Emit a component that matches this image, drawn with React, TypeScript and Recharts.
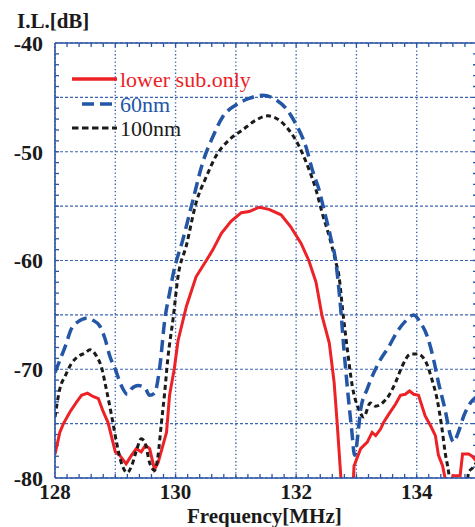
import React from 'react';
import {
    LineChart,
    Line,
    XAxis,
    YAxis,
    CartesianGrid,
    ReferenceLine,
} from 'recharts';

// frequency [MHz] / insertion loss [dB] for each sample
const lowerSubFreq = [
    128.0, 128.08, 128.14, 128.25, 128.36, 128.44, 128.54, 128.63, 128.72, 128.8,
    128.88, 129.0, 129.07, 129.18, 129.27, 129.35, 129.43, 129.5, 129.57, 129.65,
    129.71, 129.79, 129.85, 129.9, 129.98, 130.04, 130.18, 130.34, 130.51, 130.62,
    130.76, 130.92, 131.09, 131.22, 131.39, 131.55, 131.75, 131.91, 132.08, 132.21,
    132.33, 132.43, 132.55, 132.63, 132.68, 132.74, 132.82, 132.9, 132.96, 133.07,
    133.18, 133.26, 133.32, 133.4, 133.45, 133.54, 133.65, 133.73, 133.81, 133.88,
    133.95, 134.03, 134.14, 134.23, 134.31, 134.36, 134.43, 134.47, 134.53, 134.6,
    134.72, 134.76, 134.86, 134.92, 135.0,
];
const lowerSubIL = [
    -77.8, -75.8, -75.0, -73.9, -73.0, -72.4, -72.2, -72.5, -72.7, -73.9,
    -74.9, -77.6, -77.9, -78.7, -77.9, -77.3, -77.6, -77.0, -77.3, -79.2,
    -78.6, -77.0, -75.8, -72.4, -69.9, -67.4, -64.2, -61.5, -60.0, -59.0,
    -57.5, -56.4, -55.6, -55.5, -55.1, -55.3, -55.8, -56.9, -58.4, -60.0,
    -62.0, -65.1, -67.6, -71.2, -74.9, -79.8, -86.0, -86.0, -78.9, -77.3,
    -76.7, -75.8, -76.1, -75.5, -74.9, -74.1, -73.2, -72.4, -72.3, -72.0,
    -72.3, -72.4, -74.3, -75.2, -76.1, -77.9, -78.9, -80.0, -82.0, -79.8,
    -79.8, -77.8, -77.8, -78.0, -78.5,
];

const nm60Freq = [
    128.0, 128.05, 128.17, 128.27, 128.39, 128.52, 128.63, 128.74, 128.83, 128.91,
    129.0, 129.1, 129.2, 129.27, 129.38, 129.49, 129.57, 129.65, 129.74, 129.82,
    129.9, 129.97, 130.12, 130.29, 130.45, 130.62, 130.78, 131.0, 131.22, 131.44,
    131.66, 131.83, 131.99, 132.16, 132.27, 132.38, 132.46, 132.57, 132.66, 132.74,
    132.79, 132.85, 132.92, 132.97, 133.04, 133.07, 133.18, 133.29, 133.4, 133.54,
    133.67, 133.81, 133.95, 134.06, 134.17, 134.28, 134.36, 134.47, 134.56, 134.61,
    134.69, 134.78, 134.89, 135.0,
];
const nm60IL = [
    -70.3, -69.6, -67.9, -66.3, -65.6, -65.3, -65.5, -66.0, -67.2, -68.8,
    -70.0, -71.5, -72.3, -71.8, -71.5, -71.7, -72.4, -72.2, -69.7, -65.5,
    -63.0, -61.0, -58.1, -54.4, -51.0, -48.6, -46.8, -45.7, -45.1, -44.8,
    -45.2, -46.0, -47.4, -49.5, -51.7, -53.5, -55.3, -57.8, -60.2, -64.5,
    -68.0, -71.7, -75.5, -77.9, -75.2, -73.7, -71.8, -70.3, -69.1, -67.9,
    -66.6, -65.6, -65.0, -65.7, -66.9, -69.1, -71.2, -73.7, -76.1, -76.7,
    -75.8, -74.3, -73.1, -72.5,
];

const nm100Freq = [
    128.0, 128.08, 128.17, 128.27, 128.39, 128.5, 128.58, 128.69, 128.77, 128.85,
    128.94, 129.02, 129.1, 129.2, 129.27, 129.35, 129.43, 129.49, 129.57, 129.65,
    129.71, 129.76, 129.82, 129.87, 129.96, 130.04, 130.18, 130.34, 130.51, 130.67,
    130.89, 131.11, 131.33, 131.53, 131.72, 131.88, 132.05, 132.19, 132.33, 132.43,
    132.55, 132.66, 132.71, 132.77, 132.85, 132.93, 133.04, 133.12, 133.23, 133.32,
    133.43, 133.54, 133.65, 133.76, 133.9, 134.01, 134.14, 134.25, 134.34, 134.42,
    134.47, 134.53, 134.6, 134.8, 134.86, 134.94, 135.0,
];
const nm100IL = [
    -74.4, -71.8, -70.6, -69.5, -68.8, -68.5, -68.2, -68.8, -69.8, -71.8,
    -74.3, -76.7, -78.6, -79.5, -78.9, -77.5, -76.4, -76.7, -78.6, -79.3,
    -77.9, -75.2, -72.1, -69.1, -65.3, -61.5, -58.6, -54.7, -52.3, -50.4,
    -48.9, -48.0, -47.1, -46.7, -47.1, -48.0, -49.5, -51.3, -53.5, -55.6,
    -57.8, -60.2, -61.4, -64.5, -68.2, -71.5, -73.7, -74.4, -73.1, -73.4,
    -73.1, -72.4, -71.2, -69.7, -68.6, -68.6, -69.2, -70.9, -72.8, -75.5,
    -77.6, -79.5, -83.0, -83.0, -79.5, -79.0, -78.5,
];

const freqTicks = [128, 129, 130, 131, 132, 133, 134, 135];
const freqLabels = [128, 130, 132, 134];
const ilTicks = [-80, -75, -70, -65, -60, -55, -50, -45, -40];
const ilLabels = [-80, -70, -60, -50, -40];

// minor tick marks: 0.2 MHz and 1 dB
const freqMinor = Array.from({ length: 34 }, (_, i) => Math.round((128.2 + i * 0.2) * 10) / 10);
const ilMinor = Array.from({ length: 39 }, (_, i) => -79 + i);

const toRows = (f: number[], v: number[]) => f.map((x, i) => ({ f: x, v: v[i] }));

const RED = '#ec2227';
const BLUE = '#2456a6';
const BLACK = '#1b1b1b';
const FRAME = '#2b55a3';
const GRID = '#3d64b3';
const FONT = '"Liberation Serif", "Times New Roman", serif';

// minor tick length in data units (about 4px)
const TICK_DB = 0.37;
const TICK_MHZ = 0.066;

export default function App() {
    const lowerSub = toRows(lowerSubFreq, lowerSubIL);
    const nm60 = toRows(nm60Freq, nm60IL);
    const nm100 = toRows(nm100Freq, nm100IL);

    const yTickStyle = { fontFamily: FONT, fontSize: 22, fontWeight: 700, fill: '#1a1a1a' };
    const xTickStyle = { fontFamily: FONT, fontSize: 21, fontWeight: 700, fill: '#1a1a1a' };
    const frameLine = { stroke: FRAME, strokeWidth: 1.6 };

    const minorTicks = [
        ...freqMinor.map((f) => [{ x: f, y: -80 }, { x: f, y: -80 + TICK_DB }]),
        ...freqMinor.map((f) => [{ x: f, y: -40 }, { x: f, y: -40 - TICK_DB }]),
        ...ilMinor.map((v) => [{ x: 128, y: v }, { x: 128 + TICK_MHZ, y: v }]),
        ...ilMinor.map((v) => [{ x: 135, y: v }, { x: 135 - TICK_MHZ, y: v }]),
    ];

    return (
        <div style={{ position: 'absolute', left: 0, top: 0, width: 475, height: 527, overflow: 'hidden', background: '#fff' }}>
            <LineChart
                width={480}
                height={527}
                margin={{ top: 43, right: 3, left: 5, bottom: 19 }}
            >
                <CartesianGrid horizontal={true} vertical={false} stroke={GRID} strokeWidth={1.2} strokeDasharray="3 2" />
                <CartesianGrid horizontal={false} vertical={true} stroke={GRID} strokeWidth={1.4} strokeDasharray="1.3 2.4" />

                <XAxis
                    dataKey="f"
                    type="number"
                    domain={[128, 135]}
                    ticks={freqTicks}
                    interval={0}
                    allowDataOverflow
                    height={30}
                    tickLine={false}
                    tickSize={0}
                    tickMargin={6}
                    axisLine={frameLine}
                    tick={xTickStyle}
                    tickFormatter={(v: number) => (freqLabels.includes(v) ? String(v) : '')}
                />
                <XAxis
                    xAxisId="top"
                    orientation="top"
                    mirror
                    type="number"
                    domain={[128, 135]}
                    ticks={[]}
                    tick={false}
                    tickLine={false}
                    axisLine={frameLine}
                />
                <YAxis
                    type="number"
                    domain={[-80, -40]}
                    ticks={ilTicks}
                    interval={0}
                    allowDataOverflow
                    width={50}
                    tickLine={false}
                    tickSize={0}
                    tickMargin={12}
                    axisLine={frameLine}
                    tick={yTickStyle}
                    tickFormatter={(v: number) => (ilLabels.includes(v) ? String(v) : '')}
                />
                <YAxis
                    yAxisId="right"
                    orientation="right"
                    mirror
                    type="number"
                    domain={[-80, -40]}
                    ticks={[]}
                    tick={false}
                    tickLine={false}
                    axisLine={frameLine}
                />

                {minorTicks.map((seg, i) => (
                    <ReferenceLine
                        key={`mt${i}`}
                        segment={seg}
                        stroke={FRAME}
                        strokeWidth={1.3}
                        ifOverflow="visible"
                    />
                ))}

                <Line
                    data={lowerSub}
                    dataKey="v"
                    type="linear"
                    stroke={RED}
                    strokeWidth={3}
                    dot={false}
                    activeDot={false}
                    isAnimationActive={false}
                />
                <Line
                    data={nm100}
                    dataKey="v"
                    type="monotone"
                    stroke={BLACK}
                    strokeWidth={3}
                    strokeDasharray="5 3.5"
                    dot={false}
                    activeDot={false}
                    isAnimationActive={false}
                />
                <Line
                    data={nm60}
                    dataKey="v"
                    type="monotone"
                    stroke={BLUE}
                    strokeWidth={3.5}
                    strokeDasharray="12 6"
                    dot={false}
                    activeDot={false}
                    isAnimationActive={false}
                />
            </LineChart>

            <svg
                width={475}
                height={527}
                style={{ position: 'absolute', left: 0, top: 0, pointerEvents: 'none' }}
            >
                <text x={17} y={28} fontFamily={FONT} fontSize={21} fontWeight={700} fill="#1a1a1a">I.L.[dB]</text>
                <text x={187} y={523} fontFamily={FONT} fontSize={21} fontWeight={700} fill="#1a1a1a">Frequency[MHz]</text>

                <line x1={72} y1={79} x2={117} y2={79} stroke={RED} strokeWidth={3.5} />
                <text x={120} y={87} fontFamily={FONT} fontSize={22} fill={RED}>lower sub.only</text>

                <line x1={82} y1={104} x2={117} y2={104} stroke={BLUE} strokeWidth={3.5} strokeDasharray="12 6" />
                <text x={120} y={112} fontFamily={FONT} fontSize={22} fill={BLUE}>60nm</text>

                <line x1={72} y1={128} x2={117} y2={128} stroke={BLACK} strokeWidth={3} strokeDasharray="6.5 3.5" />
                <text x={120} y={136} fontFamily={FONT} fontSize={22} fill={BLACK}>100nm</text>
            </svg>
        </div>
    );
}
